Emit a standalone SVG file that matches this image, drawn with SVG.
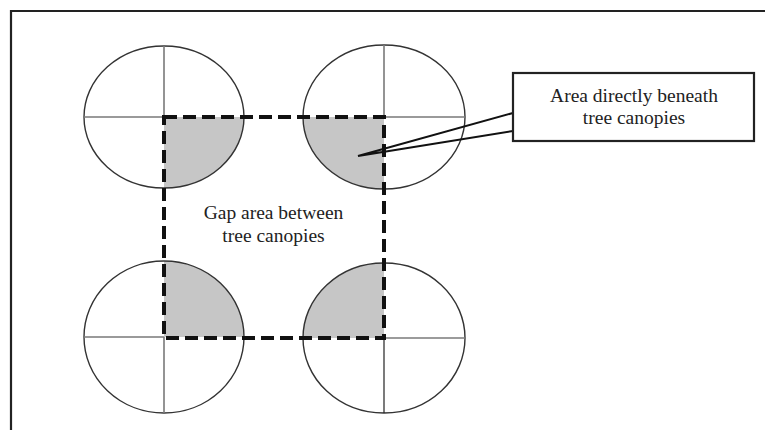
<svg xmlns="http://www.w3.org/2000/svg" width="765" height="430" viewBox="0 0 765 430">
<style>
.canopy{fill:none;stroke:#333;stroke-width:1.4}
.cross{stroke:#7a7a7a;stroke-width:1.6;fill:none}
.shade{fill:#c6c6c6;stroke:none}
.gap{fill:none;stroke:#111;stroke-width:4;stroke-dasharray:13 6}
.lbl{font-family:"Liberation Serif","Times New Roman",serif;font-size:19.5px;fill:#222;text-anchor:middle}
.frame{stroke:#222;stroke-width:2.2;fill:none}
</style>
<rect width="765" height="430" fill="#fff"/>
<g id="frame"><path class="frame" d="M11 430 V11 H765"/></g>
<g id="tree-tl">
<path class="shade" d="M164 117 H244 A80 71 0 0 1 164 188 Z"/>
<ellipse class="canopy" cx="164" cy="117" rx="80" ry="71"/>
<path class="cross" d="M164 46 V117 M84 117 H164"/>
</g>
<g id="tree-tr">
<path class="shade" d="M384 117 H303 A81 72 0 0 0 384 189 Z"/>
<ellipse class="canopy" cx="384" cy="117" rx="81" ry="72"/>
<path class="cross" d="M384 45 V117 M384 117 H465"/>
</g>
<g id="tree-bl">
<path class="shade" d="M164 337 V261 A80 76 0 0 1 244 337 Z"/>
<ellipse class="canopy" cx="164" cy="337" rx="80" ry="76"/>
<path class="cross" d="M164 337 V413 M84 337 H164"/>
</g>
<g id="tree-br">
<path class="shade" d="M384 338 V263 A81 75 0 0 0 303 338 Z"/>
<ellipse class="canopy" cx="384" cy="338" rx="81" ry="75"/>
<path class="cross" d="M384 338 H465"/>
<path d="M384 338 V413" stroke="#222" stroke-width="1.2"/>
</g>
<g id="gap-area">
<rect class="gap" x="164" y="117" width="220" height="221"/>
<text class="lbl" x="273.5" y="219">Gap area between</text>
<text class="lbl" x="273.5" y="242">tree canopies</text>
</g>
<g id="connectors">
<polyline points="513,113 358,156 513,131" fill="none" stroke="#111" stroke-width="2" stroke-linejoin="miter"/>
</g>
<g id="callout">
<rect x="513" y="73" width="241" height="68" fill="#fff" stroke="#222" stroke-width="2.2"/>
<text class="lbl" x="634" y="102">Area directly beneath</text>
<text class="lbl" x="634" y="124">tree canopies</text>
</g>
</svg>
